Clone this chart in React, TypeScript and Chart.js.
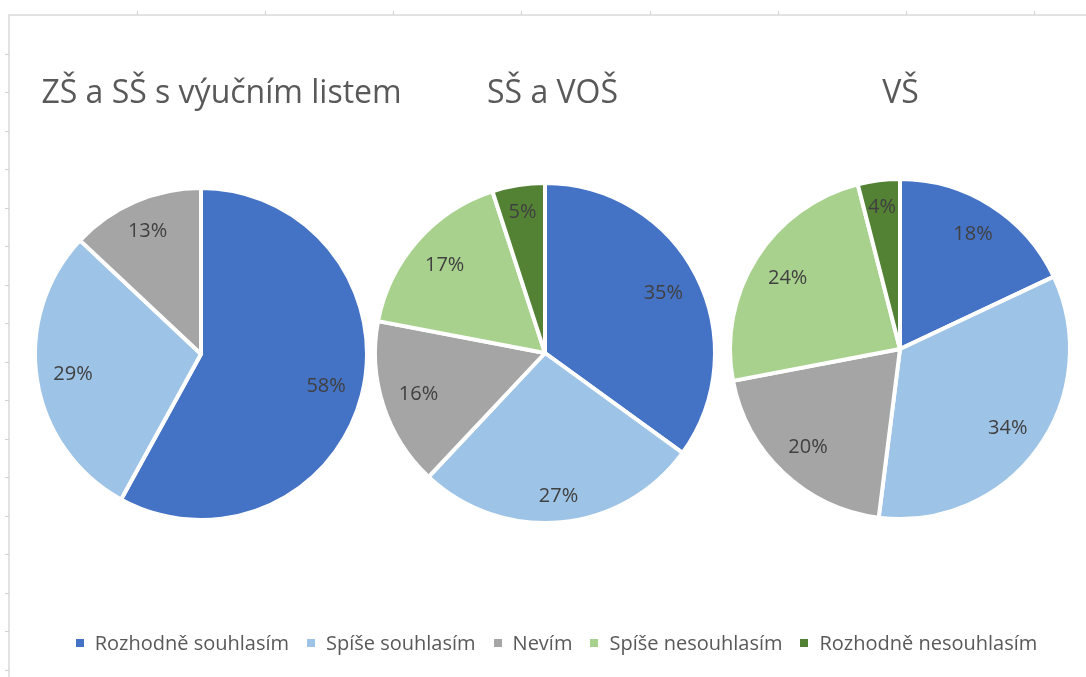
import React, { useEffect, useRef } from 'react';
import { Chart, ArcElement, PieController } from 'chart.js';

Chart.register(ArcElement, PieController);

// ---- data ----
const categories = [
  'Rozhodně souhlasím',
  'Spíše souhlasím',
  'Nevím',
  'Spíše nesouhlasím',
  'Rozhodně nesouhlasím',
];
const panelTitles = ['ZŠ a SŠ s výučním listem', 'SŠ a VOŠ', 'VŠ'];
const zsValues = [58, 29, 13, 0, 0];
const ssValues = [35, 27, 16, 17, 5];
const vsValues = [18, 34, 20, 24, 4];
const seriesValues = [zsValues, ssValues, vsValues];

// ---- styles ----
const colors = ['#4472C4', '#9DC3E6', '#A5A5A5', '#A9D18E', '#548235'];
const FONT = '"Open Sans", "Noto Sans", sans-serif';
const BORDER = 4;
const PAGE_H = 677;

// layout of the three panels (centre, radius of coloured disc, canvas half width, title offset)
const panels = [
  { cx: 201, cy: 354, r: 164, halfW: 236, titleDx: 20.5 },
  { cx: 545, cy: 353, r: 168, halfW: 185, titleDx: 7.5 },
  { cx: 900, cy: 349, r: 168, halfW: 180, titleDx: 0.5 },
];

const panelTitlePlugin = {
  id: 'panelTitle',
  afterDraw(chart: any, _args: any, opts: any) {
    const { ctx, chartArea } = chart;
    ctx.save();
    ctx.font = `${opts.size}px ${FONT}`;
    ctx.fillStyle = opts.color;
    ctx.textAlign = 'center';
    ctx.textBaseline = 'alphabetic';
    const x = (chartArea.left + chartArea.right) / 2 + opts.dx;
    ctx.fillText(opts.text, x, opts.baseline);
    ctx.restore();
  },
};

const sliceLabelPlugin = {
  id: 'sliceLabels',
  afterDatasetsDraw(chart: any, _args: any, opts: any) {
    const { ctx } = chart;
    const meta = chart.getDatasetMeta(0);
    const data = chart.data.datasets[0].data as number[];
    ctx.save();
    ctx.font = `${opts.size}px ${FONT}`;
    ctx.fillStyle = opts.color;
    ctx.textAlign = 'center';
    ctx.textBaseline = 'middle';
    meta.data.forEach((arc: any, i: number) => {
      const v = data[i];
      if (!v) return;
      const p = arc.getProps(['x', 'y', 'startAngle', 'endAngle', 'outerRadius'], true);
      const mid = (p.startAngle + p.endAngle) / 2;
      const text = `${v}%`;
      const hw = ctx.measureText(text).width / 2;
      const hh = opts.size * 0.45;
      const c = Math.cos(mid);
      const s = Math.sin(mid);
      const rad = p.outerRadius - BORDER / 2;
      const d = rad - opts.inset - (Math.abs(c) * hw + Math.abs(s) * hh);
      ctx.fillText(text, p.x + c * d, p.y + s * d + 0.5);
    });
    ctx.restore();
  },
};

function PiePanel({ index }: { index: number }) {
  const ref = useRef<HTMLCanvasElement>(null);
  const pnl = panels[index];
  const width = pnl.halfW * 2;
  useEffect(() => {
    if (!ref.current) return;
    const chart = new Chart(ref.current, {
      type: 'pie',
      data: {
        labels: categories,
        datasets: [
          {
            data: seriesValues[index],
            backgroundColor: colors,
            borderColor: '#ffffff',
            borderWidth: BORDER,
            clip: false as any,
          } as any,
        ],
      },
      options: {
        responsive: false,
        animation: false,
        events: [],
        radius: pnl.r + BORDER / 2,
        layout: { padding: { top: 2 * pnl.cy - PAGE_H, left: 0, right: 0, bottom: 0 } },
        plugins: {
          legend: { display: false },
          tooltip: { enabled: false },
          panelTitle: { text: panelTitles[index], dx: pnl.titleDx, baseline: 103, size: 32, color: '#595959' },
          sliceLabels: { size: 20, color: '#404040', inset: 13.5 },
        } as any,
      } as any,
      plugins: [panelTitlePlugin, sliceLabelPlugin],
    });
    return () => chart.destroy();
  }, [index]);
  return (
    <canvas
      ref={ref}
      width={width}
      height={PAGE_H}
      style={{ position: 'absolute', left: pnl.cx - pnl.halfW, top: 0, width, height: PAGE_H }}
    />
  );
}

export default function App() {
  const colTicks = Array.from({ length: 8 }, (_, k) => 9 + (k + 1) * 128.1);
  const rowTicks = Array.from({ length: 17 }, (_, k) => 15 + (k + 1) * 38.5);
  return (
    <div
      style={{
        position: 'absolute',
        left: 0,
        top: 0,
        width: 1086,
        height: PAGE_H,
        background: '#ffffff',
        overflow: 'hidden',
      }}
    >
      {/* spreadsheet frame */}
      <div style={{ position: 'absolute', left: 8, top: 14, width: 1078, height: 2, background: '#e2e2e2' }} />
      <div style={{ position: 'absolute', left: 8, top: 14, width: 2, height: PAGE_H - 14, background: '#e2e2e2' }} />
      {colTicks.map((x) => (
        <div key={'c' + x} style={{ position: 'absolute', left: Math.round(x), top: 11, width: 1, height: 4, background: '#d2d2d2' }} />
      ))}
      {rowTicks.map((y) => (
        <div key={'r' + y} style={{ position: 'absolute', left: 5, top: Math.round(y), width: 4, height: 1, background: '#d2d2d2' }} />
      ))}

      <PiePanel index={0} />
      <PiePanel index={1} />
      <PiePanel index={2} />

      {/* legend */}
      <div
        style={{
          position: 'absolute',
          left: 0,
          top: 633,
          width: 1113,
          height: 20,
          display: 'flex',
          justifyContent: 'center',
          alignItems: 'center',
          fontFamily: FONT,
          fontSize: 20,
          lineHeight: '20px',
          color: '#595959',
          whiteSpace: 'nowrap',
        }}
      >
        {categories.map((c, i) => (
          <div key={c} style={{ display: 'flex', alignItems: 'center', marginLeft: i ? 18 : 0 }}>
            <span style={{ display: 'inline-block', width: 8, height: 8, background: colors[i], marginRight: 11 }} />
            <span>{c}</span>
          </div>
        ))}
      </div>
    </div>
  );
}
